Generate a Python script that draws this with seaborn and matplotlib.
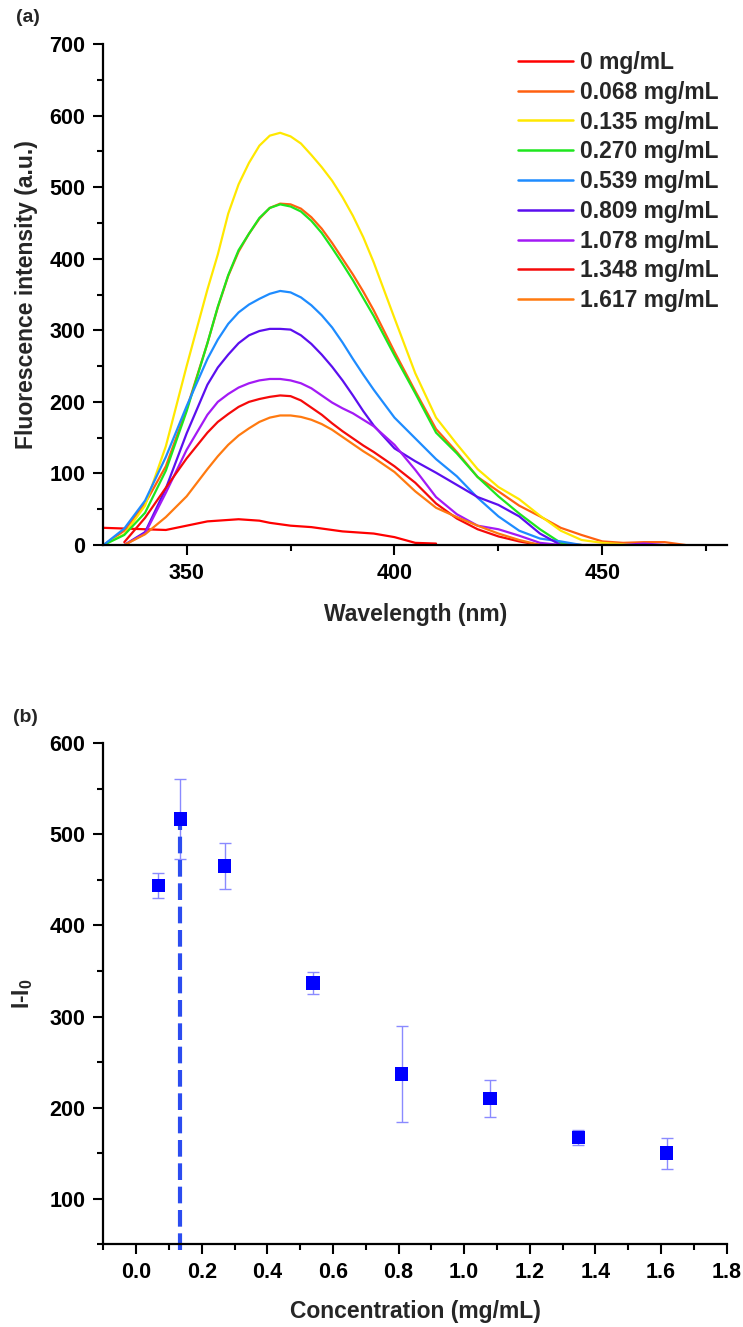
import numpy as np
import pandas as pd
import matplotlib
matplotlib.use("Agg")
import matplotlib.pyplot as plt
import seaborn as sns
from matplotlib.ticker import MultipleLocator

nan = np.nan

# ---------------- data: panel (a) ----------------
wavelength = [330, 335, 340, 345, 350,
              355, 357.5, 360, 362.5, 365, 367.5, 370, 372.5, 375, 377.5, 380, 382.5, 385, 387.5, 390, 392.5, 395,
              400, 405, 410, 415, 420, 425, 430, 435, 440, 445, 450, 455, 460, 465, 470]

conc_labels = ["0 mg/mL", "0.068 mg/mL", "0.135 mg/mL", "0.270 mg/mL", "0.539 mg/mL",
               "0.809 mg/mL", "1.078 mg/mL", "1.348 mg/mL", "1.617 mg/mL"]
line_colors = ["#FF0000", "#FF6010", "#FFE800", "#1EE61E", "#1E8CFF",
               "#5B0FEF", "#A31AF5", "#F50A0A", "#FF7A10"]

i_0000 = [24, 23, 22, 21, 27,
          33, 34, 35, 36, 35, 34, 31, 29, 27, 26, 25, 23, 21, 19, 18, 17, 16,
          11, 3, 2, nan, nan, nan, nan, nan, nan, nan, nan, nan, nan, nan, nan]
i_0068 = [0, 20, 58, 110, 190,
          282, 332, 376, 410, 435, 456, 471, 477, 476, 470, 458, 442, 422, 400, 378, 354, 328,
          270, 215, 162, 130, 95, 75, 55, 40, 24, 14, 5, 3, 4, 4, 0]
i_0135 = [0, 15, 55, 138, 250,
          357, 406, 463, 504, 534, 558, 572, 576, 571, 561, 545, 528, 509, 486, 460, 430, 395,
          317, 240, 178, 141, 106, 81, 64, 41, 20, 7, 3, 1, 0, nan, nan]
i_0270 = [0, 14, 45, 104, 187,
          282, 333, 377, 412, 435, 457, 471, 476, 473, 466, 453, 436, 415, 393, 370, 345, 320,
          265, 212, 157, 128, 95, 68, 44, 22, 3, 0, nan, nan, nan, nan, nan]
i_0539 = [0, 23, 62, 123, 194,
          260, 287, 309, 325, 336, 344, 351, 355, 353, 346, 335, 321, 304, 283, 260, 238, 217,
          178, 149, 120, 96, 66, 40, 20, 9, 5, 0, nan, nan, nan, nan, nan]
i_0809 = [nan, 0, 18, 79, 156,
          224, 248, 266, 282, 293, 299, 302, 302, 301, 293, 281, 266, 249, 230, 209, 187, 167,
          135, 117, 101, 84, 67, 56, 40, 16, 0, nan, nan, nan, nan, nan, nan]
i_1078 = [nan, 0, 16, 73, 133,
          182, 200, 211, 220, 226, 230, 232, 232, 230, 226, 219, 209, 199, 191, 184, 175, 166,
          140, 105, 67, 43, 27, 22, 13, 3, 0, 0, 0, 0, 2, 0, nan]
i_1348 = [nan, 4, 38, 80, 121,
          157, 172, 183, 193, 200, 204, 207, 209, 208, 202, 192, 182, 170, 159, 149, 139, 130,
          110, 87, 58, 37, 22, 12, 5, 0, nan, nan, nan, nan, nan, nan, nan]
i_1617 = [nan, 0, 15, 39, 68,
          106, 124, 140, 153, 163, 172, 178, 181, 181, 179, 175, 169, 161, 151, 141, 131, 122,
          102, 75, 52, 39, 27, 16, 7, 0, nan, nan, nan, nan, nan, nan, nan]

spectra = [i_0000, i_0068, i_0135, i_0270, i_0539, i_0809, i_1078, i_1348, i_1617]

# ---------------- data: panel (b) ----------------
concentration = [0.068, 0.135, 0.270, 0.539, 0.809, 1.078, 1.348, 1.617]
delta_I = [444, 517, 465, 337, 237, 210, 167, 150]
delta_err = [14, 44, 25, 12, 53, 20, 8, 17]

# ---------------- style ----------------
sns.set_style("ticks")
plt.rcParams["font.family"] = ["Liberation Sans", "DejaVu Sans"]
plt.rcParams["font.weight"] = "bold"
plt.rcParams["mathtext.fontset"] = "custom"
plt.rcParams["mathtext.rm"] = "Liberation Sans:bold"
plt.rcParams["mathtext.bf"] = "Liberation Sans:bold"
plt.rcParams["mathtext.it"] = "Liberation Sans:bold"

TICK_FS = 15.5
LABEL_FS = 16.5

fig = plt.figure(figsize=(7.43, 13.27), dpi=100)
ax1 = fig.add_axes([0.1393, 0.5893, 0.8392, 0.3775])
ax2 = fig.add_axes([0.1390, 0.0623, 0.8390, 0.3777])


def style_axes(ax):
    for s in ["top", "right"]:
        ax.spines[s].set_visible(False)
    for s in ["left", "bottom"]:
        ax.spines[s].set_linewidth(1.6)
        ax.spines[s].set_color("black")
    ax.tick_params(which="major", direction="out", length=7, width=1.5,
                   labelsize=TICK_FS, pad=6, colors="black")
    ax.tick_params(which="minor", direction="out", length=4, width=1.5, colors="black")
    for lab in ax.get_xticklabels() + ax.get_yticklabels():
        lab.set_fontweight("bold")


# ---------------- panel (a) ----------------
rows = []
for lab, vals in zip(conc_labels, spectra):
    for w, v in zip(wavelength, vals):
        rows.append({"Wavelength": w, "Intensity": v, "Conc": lab})
df_a = pd.DataFrame(rows)

palette = dict(zip(conc_labels, line_colors))
sns.lineplot(data=df_a, x="Wavelength", y="Intensity", hue="Conc", hue_order=conc_labels,
             palette=palette, estimator=None, sort=False, linewidth=1.6, ax=ax1, legend=True)

ax1.set_xlim(330, 480)
ax1.set_ylim(0, 700)
ax1.xaxis.set_major_locator(MultipleLocator(50))
ax1.xaxis.set_minor_locator(MultipleLocator(25))
ax1.yaxis.set_major_locator(MultipleLocator(100))
ax1.yaxis.set_minor_locator(MultipleLocator(50))
ax1.set_xlabel("Wavelength (nm)", fontsize=LABEL_FS, fontweight="bold", labelpad=14)
ax1.set_ylabel("Fluorescence intensity (a.u.)", fontsize=LABEL_FS, fontweight="bold", labelpad=8)
style_axes(ax1)

handles, labels = ax1.get_legend_handles_labels()
for h in handles:
    h.set_linewidth(1.8)
ax1.legend(handles, labels, loc="upper left", bbox_to_anchor=(518 / 743, 1 - 51 / 1327),
           bbox_transform=fig.transFigure, frameon=False, borderpad=0, borderaxespad=0,
           labelspacing=0.295, handlelength=2.4, handletextpad=0.3,
           prop={"size": 16.5, "weight": "bold"})

fig.text(16 / 743, 1 - 18 / 1327, "(a)", fontsize=14, fontweight="bold", va="center", ha="left")

# ---------------- panel (b) ----------------
df_b = pd.DataFrame({"Concentration": concentration, "dI": delta_I, "err": delta_err})

ax2.errorbar(df_b["Concentration"], df_b["dI"], yerr=df_b["err"], fmt="none",
             ecolor="#8A8AFF", elinewidth=1.0, capsize=4.5, capthick=1.0, zorder=2)
sns.scatterplot(data=df_b, x="Concentration", y="dI", marker="s", s=95, color="#0000FF",
                edgecolor="none", ax=ax2, zorder=3)

ax2.set_xlim(-0.1, 1.8)
ax2.set_ylim(50, 600)
peak_i = int(np.argmax(delta_I))
ymax_frac = (delta_I[peak_i] - 5 - 50) / (600 - 50)
ax2.axvline(concentration[peak_i], ymin=-0.012, ymax=ymax_frac, color="#2B4CF0",
            linewidth=3.0, linestyle=(0, (4.0, 1.6)), clip_on=False, zorder=2.5)

ax2.xaxis.set_major_locator(MultipleLocator(0.2))
ax2.xaxis.set_minor_locator(MultipleLocator(0.1))
ax2.yaxis.set_major_locator(MultipleLocator(100))
ax2.yaxis.set_minor_locator(MultipleLocator(50))
ax2.set_xticks([0.0, 0.2, 0.4, 0.6, 0.8, 1.0, 1.2, 1.4, 1.6, 1.8])
ax2.set_xticklabels(["0.0", "0.2", "0.4", "0.6", "0.8", "1.0", "1.2", "1.4", "1.6", "1.8"])
ax2.set_xlabel("Concentration (mg/mL)", fontsize=LABEL_FS, fontweight="bold", labelpad=12)
ax2.set_ylabel(r"I-I$_{0}$", fontsize=LABEL_FS, fontweight="bold", labelpad=10)
style_axes(ax2)

fig.text(13 / 743, 1 - 717 / 1327, "(b)", fontsize=14, fontweight="bold", va="center", ha="left")

fig.savefig("out.png", dpi=100)
